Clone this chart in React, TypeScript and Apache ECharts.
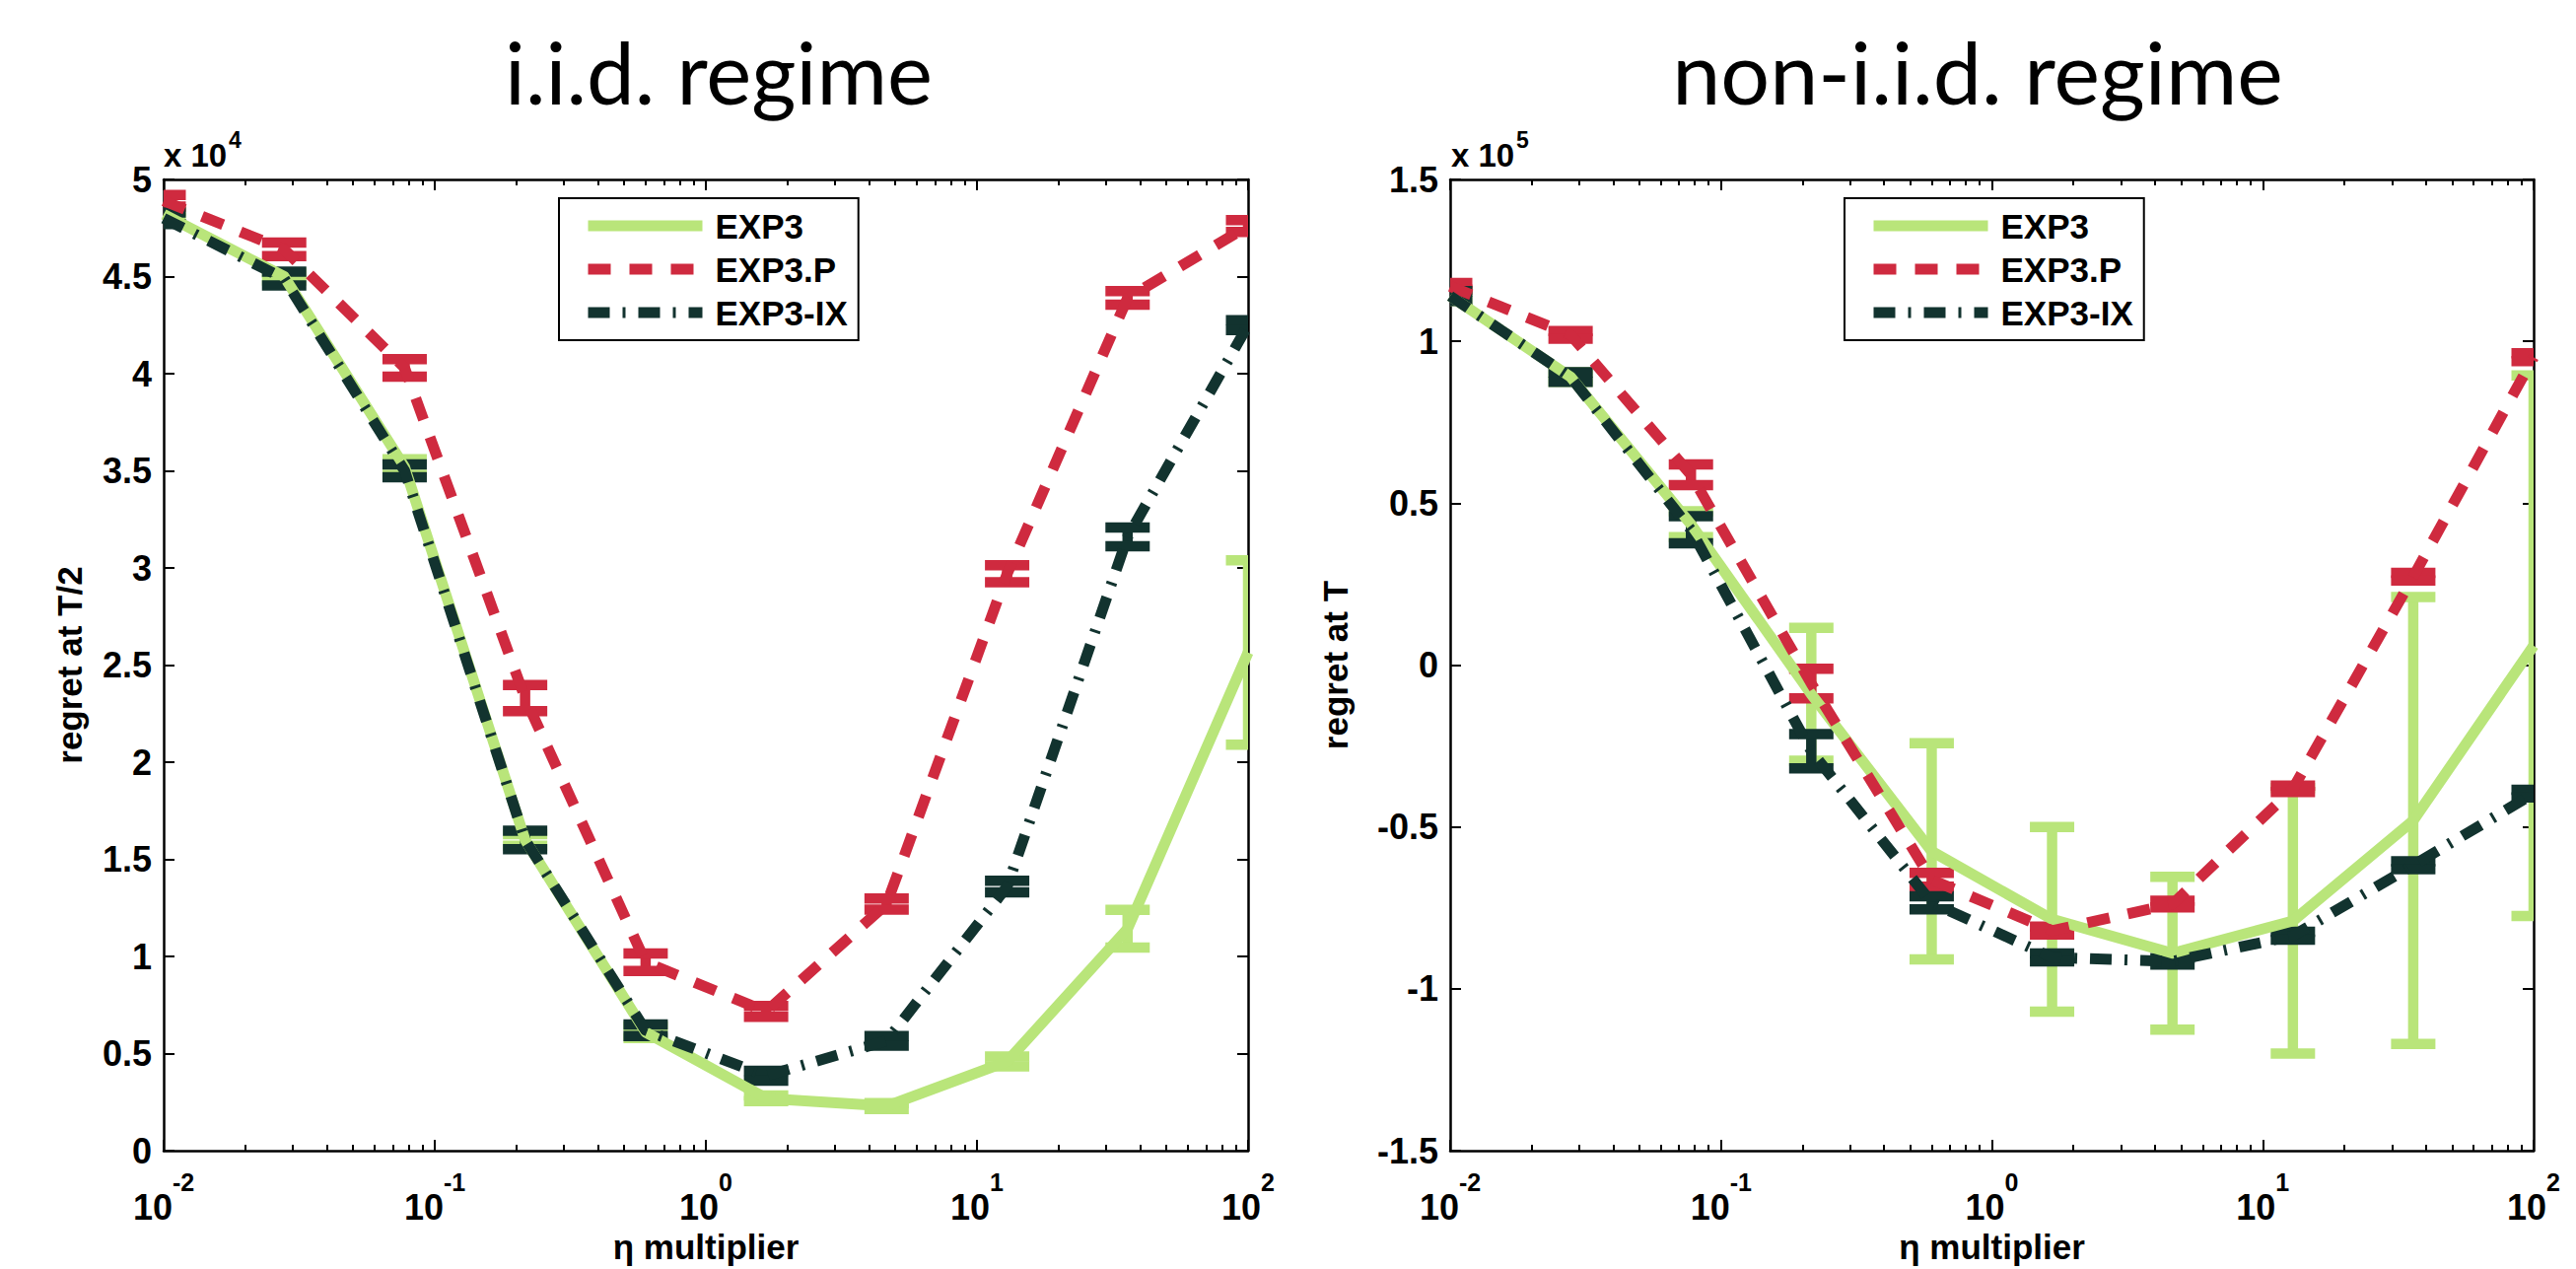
import React, { useEffect, useRef } from "react";
import * as echarts from "echarts";

// η multiplier values (log-spaced from 1e-2 to 1e2)
const etaMultipliers = [0.01, 0.02783, 0.07743, 0.2154, 0.5995, 1.668, 4.642, 12.92, 35.94, 100];

const xMajorTicks = [0.01, 0.1, 1, 10, 100];
const xMinorTicks = [
  0.02, 0.03, 0.04, 0.05, 0.06, 0.07, 0.08, 0.09,
  0.2, 0.3, 0.4, 0.5, 0.6, 0.7, 0.8, 0.9,
  2, 3, 4, 5, 6, 7, 8, 9,
  20, 30, 40, 50, 60, 70, 80, 90,
];

const seriesNames = ["EXP3", "EXP3.P", "EXP3-IX"];

// i.i.d. regime: regret at T/2 (units of 10^4)
const iidExp3 = [4.82, 4.5, 3.52, 1.6, 0.61, 0.27, 0.23, 0.46, 1.143, 2.565];
const iidExp3Err = [0.02, 0.02, 0.04, 0.03, 0.03, 0.015, 0.015, 0.025, 0.097, 0.475];
const iidExp3P = [4.89, 4.64, 4.03, 2.33, 0.97, 0.717, 1.27, 2.97, 4.39, 4.76];
const iidExp3PErr = [0.03, 0.035, 0.045, 0.067, 0.045, 0.028, 0.028, 0.044, 0.035, 0.03];
const iidExp3IX = [4.8, 4.49, 3.5, 1.6, 0.62, 0.386, 0.566, 1.36, 3.16, 4.25];
const iidExp3IXErr = [0.03, 0.035, 0.033, 0.047, 0.03, 0.025, 0.025, 0.03, 0.048, 0.025];

// non-i.i.d. regime: regret at T (units of 10^5)
const nonExp3 = [1.14, 0.89, 0.435, -0.09, -0.575, -0.785, -0.89, -0.79, -0.48, 0.06];
const nonExp3Err = [0.015, 0.015, 0.04, 0.205, 0.334, 0.285, 0.236, 0.41, 0.69, 0.835];
const nonExp3P = [1.17, 1.02, 0.588, -0.057, -0.663, -0.82, -0.738, -0.382, 0.273, 0.951];
const nonExp3PErr = [0.01, 0.012, 0.032, 0.046, 0.021, 0.012, 0.01, 0.01, 0.012, 0.012];
const nonExp3IX = [1.14, 0.89, 0.418, -0.266, -0.734, -0.903, -0.915, -0.836, -0.618, -0.397];
const nonExp3IXErr = [0.015, 0.015, 0.042, 0.053, 0.02, 0.012, 0.01, 0.012, 0.012, 0.012];

const iidYTicks = { min: 0, max: 5, interval: 0.5 };
const nonYTicks = { min: -1.5, max: 1.5, interval: 0.5 };

const COLORS = ["#b9e57a", "#cf2a3f", "#12332f"];
const DASHES: any[] = ["solid", [23, 19], [22, 13, 3, 13]];
const FONT = "'Liberation Sans', Arial, Helvetica, sans-serif";
const TITLE_FONT = "Lato, 'Open Sans', sans-serif";
const W = "bold";

const axisLineStyle = { color: "#000", width: 2.5 };
const tickLineStyle = { color: "#000", width: 2 };

function xAxesFor(gridIndex: number) {
  const base: any = {
    type: "log",
    logBase: 10,
    min: 0.01,
    max: 100,
    gridIndex,
    splitLine: { show: false },
    minorTick: { show: false },
  };
  return [
    {
      ...base,
      position: "bottom",
      axisLine: { show: true, onZero: false, lineStyle: axisLineStyle },
      axisTick: { show: true, inside: true, length: 11, lineStyle: tickLineStyle, customValues: xMajorTicks },
      axisLabel: {
        show: true,
        customValues: xMajorTicks,
        margin: 19,
        formatter: (v: number) => `{b|10}{s|${Math.round(Math.log10(v))}}`,
        rich: {
          b: { fontSize: 36, fontWeight: W, lineHeight: 56, verticalAlign: "bottom", fontFamily: FONT, color: "#000" },
          s: { fontSize: 25, fontWeight: W, lineHeight: 25, verticalAlign: "top", fontFamily: FONT, color: "#000" },
        },
      },
      name: "η multiplier",
      nameLocation: "middle",
      nameGap: 60,
      nameTextStyle: { fontFamily: FONT, fontSize: 35, fontWeight: W, color: "#000" },
    },
    {
      ...base,
      position: "bottom",
      axisLine: { show: false, onZero: false },
      axisTick: { show: true, inside: true, length: 6, lineStyle: tickLineStyle, customValues: xMinorTicks },
      axisLabel: { show: false },
    },
    {
      ...base,
      position: "top",
      axisLine: { show: true, onZero: false, lineStyle: axisLineStyle },
      axisTick: { show: true, inside: true, length: 11, lineStyle: tickLineStyle, customValues: xMajorTicks },
      axisLabel: { show: false },
    },
    {
      ...base,
      position: "top",
      axisLine: { show: false, onZero: false },
      axisTick: { show: true, inside: true, length: 6, lineStyle: tickLineStyle, customValues: xMinorTicks },
      axisLabel: { show: false },
    },
  ];
}

function yAxesFor(gridIndex: number, range: any, name: string, nameGap: number) {
  return [
    {
      type: "value",
      gridIndex,
      ...range,
      position: "left",
      axisLine: { show: true, onZero: false, lineStyle: axisLineStyle },
      axisTick: { show: true, inside: true, length: 11, lineStyle: tickLineStyle },
      axisLabel: { show: true, fontSize: 36, fontWeight: W, fontFamily: FONT, color: "#000", margin: 12 },
      splitLine: { show: false },
      name,
      nameLocation: "middle",
      nameGap,
      nameTextStyle: { fontFamily: FONT, fontSize: 35, fontWeight: W, color: "#000" },
    },
    {
      type: "value",
      gridIndex,
      ...range,
      position: "right",
      axisLine: { show: true, onZero: false, lineStyle: axisLineStyle },
      axisTick: { show: true, inside: true, length: 11, lineStyle: tickLineStyle },
      axisLabel: { show: false },
      splitLine: { show: false },
    },
  ];
}

function errorBarSeries(name: string, color: string, xIdx: number, yIdx: number, means: number[], errs: number[]) {
  return {
    type: "custom",
    name: name + " error",
    xAxisIndex: xIdx,
    yAxisIndex: yIdx,
    clip: true,
    silent: true,
    encode: { x: 0, y: 1 },
    data: etaMultipliers.map((x, i) => [x, means[i], errs[i]]),
    renderItem: (params: any, api: any) => {
      const x = api.value(0);
      const m = api.value(1);
      const e = api.value(2);
      const top = api.coord([x, m + e]);
      const bot = api.coord([x, m - e]);
      const hw = 22.5;
      const style = { stroke: color, lineWidth: 10.5, fill: "none" };
      return {
        type: "group",
        children: [
          { type: "line", shape: { x1: top[0], y1: top[1], x2: bot[0], y2: bot[1] }, style },
          { type: "line", shape: { x1: top[0] - hw, y1: top[1], x2: top[0] + hw, y2: top[1] }, style },
          { type: "line", shape: { x1: bot[0] - hw, y1: bot[1], x2: bot[0] + hw, y2: bot[1] }, style },
        ],
      };
    },
  };
}

function lineSeries(name: string, k: number, xIdx: number, yIdx: number, means: number[]) {
  return {
    type: "line",
    name,
    xAxisIndex: xIdx,
    yAxisIndex: yIdx,
    symbol: "none",
    silent: true,
    clip: true,
    data: etaMultipliers.map((x, i) => [x, means[i]]),
    lineStyle: { color: COLORS[k], width: 11, type: DASHES[k], cap: "butt", join: "round" },
    itemStyle: { color: COLORS[k] },
  };
}

function legendFor(left: number) {
  return {
    orient: "vertical",
    left,
    top: 201,
    itemWidth: 116,
    itemHeight: 12,
    itemGap: 8,
    selectedMode: false,
    padding: [10, 11, 10, 24],
    backgroundColor: "#fff",
    borderColor: "#000",
    borderWidth: 2,
    borderRadius: 0,
    textStyle: { fontFamily: FONT, fontSize: 35, fontWeight: W, color: "#000", lineHeight: 36, padding: [0, 0, 0, 8] },
    itemStyle: { opacity: 0 },
    lineStyle: { width: 11 },
    data: seriesNames,
  };
}

function textEl(text: string, x: number, y: number, size: number, family: string, weight: string, align: string) {
  return {
    type: "text",
    x,
    y,
    style: {
      text,
      fontSize: size,
      fontFamily: family,
      fontWeight: weight,
      fill: "#000",
      textAlign: align,
      textVerticalAlign: "middle",
      align,
      verticalAlign: "middle",
    },
  };
}

export default function App() {
  const ref = useRef<HTMLDivElement>(null);

  useEffect(() => {
    if (!ref.current) return;
    const chart = echarts.init(ref.current, undefined, { renderer: "svg" });

    const groups = [
      { x: 0, y: 0, vals: [iidExp3, iidExp3P, iidExp3IX], errs: [iidExp3Err, iidExp3PErr, iidExp3IXErr] },
      { x: 4, y: 2, vals: [nonExp3, nonExp3P, nonExp3IX], errs: [nonExp3Err, nonExp3PErr, nonExp3IXErr] },
    ];
    const series: any[] = [];
    groups.forEach((g) => {
      for (let k = 0; k < 3; k++) {
        series.push(errorBarSeries(seriesNames[k], COLORS[k], g.x, g.y, g.vals[k], g.errs[k]));
        series.push(lineSeries(seriesNames[k], k, g.x, g.y, g.vals[k]));
      }
    });

    const option: any = {
      animation: false,
      backgroundColor: "#fff",
      grid: [
        { left: 166, top: 182, width: 1100, height: 995, containLabel: false },
        { left: 1471, top: 182, width: 1099, height: 995, containLabel: false },
      ],
      xAxis: [...xAxesFor(0), ...xAxesFor(1)],
      yAxis: [...yAxesFor(0, iidYTicks, "regret at T/2", 78), ...yAxesFor(1, nonYTicks, "regret at T", 99)],
      legend: [legendFor(567), legendFor(1871)],
      graphic: [
        textEl("i.i.d. regime", 729, 72, 87, TITLE_FONT, "normal", "center"),
        textEl("non-i.i.d. regime", 2006, 72, 88, TITLE_FONT, "normal", "center"),
        textEl("x 10", 166, 157, 33, FONT, W, "left"),
        textEl("4", 232, 142, 23, FONT, W, "left"),
        textEl("x 10", 1472, 157, 33, FONT, W, "left"),
        textEl("5", 1538, 142, 23, FONT, W, "left"),
      ],
      series,
    };

    chart.setOption(option);
    return () => {
      chart.dispose();
    };
  }, []);

  return (
    <div
      ref={ref}
      style={{ position: "fixed", left: 0, top: 0, width: 2613, height: 1287, background: "#fff" }}
    />
  );
}
